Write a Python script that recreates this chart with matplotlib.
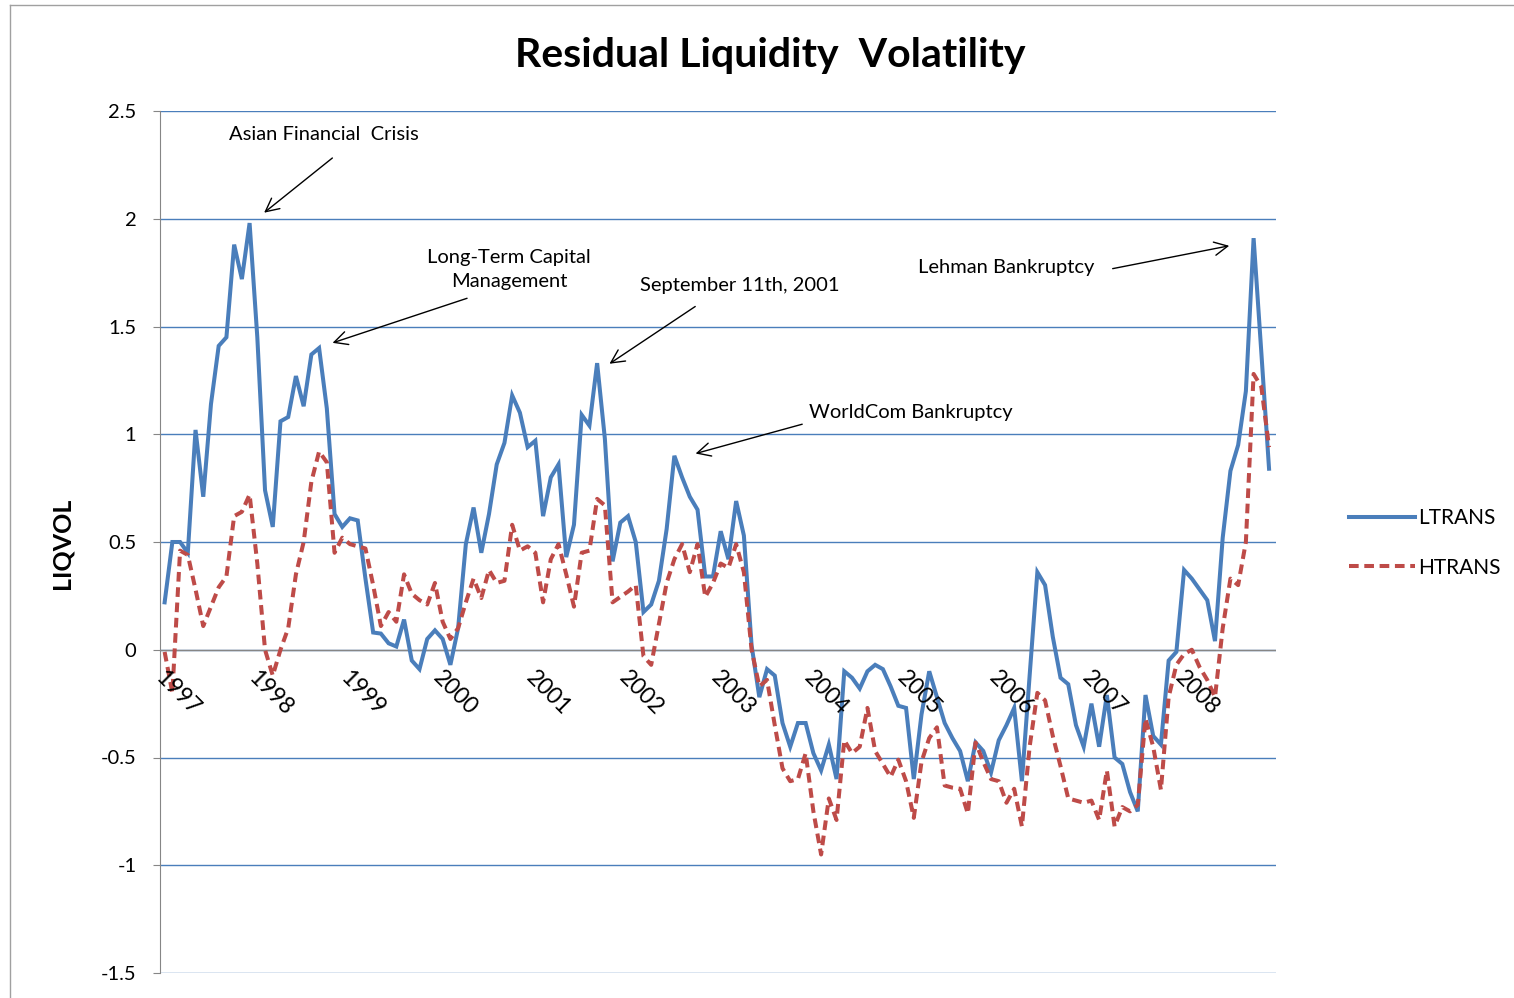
import numpy as np
import matplotlib
matplotlib.use("Agg")
from matplotlib import pyplot as plt
from matplotlib.lines import Line2D

plt.rcParams['font.family'] = ['Lato', 'DejaVu Sans']

# mjesečne vrijednosti, 1997-01 do 2008-12
ltrans = [0.22, 0.50, 0.50, 0.45, 1.02, 0.71, 1.14, 1.41, 1.45, 1.88, 1.72, 1.98,
          1.45, 0.74, 0.57, 1.06, 1.08, 1.27, 1.13, 1.37, 1.40, 1.12, 0.63, 0.57,
          0.61, 0.60, 0.33, 0.08, 0.075, 0.03, 0.015, 0.14, -0.05, -0.09, 0.05, 0.09,
          0.05, -0.07, 0.10, 0.49, 0.66, 0.45, 0.63, 0.86, 0.96, 1.18, 1.10, 0.94,
          0.97, 0.62, 0.80, 0.86, 0.43, 0.58, 1.09, 1.04, 1.33, 0.98, 0.41, 0.59,
          0.62, 0.50, 0.175, 0.21, 0.32, 0.56, 0.90, 0.80, 0.71, 0.65, 0.34, 0.34,
          0.55, 0.42, 0.69, 0.53, 0.02, -0.22, -0.09, -0.12, -0.34, -0.45, -0.34, -0.34,
          -0.48, -0.56, -0.44, -0.60, -0.10, -0.13, -0.18, -0.10, -0.07, -0.09, -0.17, -0.26,
          -0.27, -0.60, -0.30, -0.10, -0.22, -0.34, -0.41, -0.47, -0.61, -0.43, -0.47, -0.57,
          -0.42, -0.35, -0.27, -0.61, -0.12, 0.36, 0.30, 0.06, -0.13, -0.16, -0.35, -0.45,
          -0.25, -0.45, -0.21, -0.50, -0.53, -0.66, -0.75, -0.21, -0.40, -0.44, -0.05, -0.01,
          0.37, 0.33, 0.28, 0.23, 0.04, 0.52, 0.83, 0.95, 1.20, 1.91, 1.38, 0.84]

htrans = [-0.01, -0.20, 0.46, 0.44, 0.28, 0.11, 0.20, 0.29, 0.34, 0.62, 0.64, 0.72,
          0.40, 0.00, -0.12, 0.00, 0.10, 0.35, 0.50, 0.78, 0.92, 0.87, 0.45, 0.52,
          0.49, 0.48, 0.47, 0.30, 0.11, 0.175, 0.13, 0.35, 0.26, 0.23, 0.21, 0.31,
          0.13, 0.05, 0.10, 0.22, 0.33, 0.24, 0.37, 0.31, 0.32, 0.58, 0.46, 0.48,
          0.45, 0.22, 0.42, 0.49, 0.35, 0.20, 0.45, 0.46, 0.70, 0.67, 0.22, 0.245,
          0.27, 0.30, -0.03, -0.07, 0.12, 0.31, 0.42, 0.49, 0.36, 0.49, 0.245, 0.31,
          0.40, 0.38, 0.49, 0.36, 0.00, -0.17, -0.14, -0.35, -0.55, -0.61, -0.60, -0.48,
          -0.75, -0.95, -0.69, -0.79, -0.42, -0.48, -0.45, -0.27, -0.47, -0.53, -0.59, -0.51,
          -0.61, -0.78, -0.52, -0.41, -0.36, -0.63, -0.64, -0.645, -0.76, -0.43, -0.52, -0.60,
          -0.61, -0.71, -0.645, -0.82, -0.45, -0.20, -0.235, -0.40, -0.54, -0.69, -0.70, -0.71,
          -0.70, -0.79, -0.56, -0.82, -0.73, -0.75, -0.72, -0.32, -0.45, -0.65, -0.22, -0.07,
          -0.02, 0.00, -0.08, -0.14, -0.22, 0.10, 0.33, 0.30, 0.50, 1.28, 1.22, 0.94]

godine = [str(g) for g in range(1997, 2009)]

# događaji: tekst, položaj teksta, početak i vrh strelice
dogadjaji = [
    ("Asian Financial  Crisis", (20.6, 2.39), (22.0, 2.29), (12.6, 2.02)),
    ("Long-Term Capital\nManagement", (44.6, 1.765), (39.5, 1.635), (21.4, 1.42)),
    ("September 11th, 2001", (74.5, 1.69), (69.0, 1.60), (57.3, 1.32)),
    ("WorldCom Bankruptcy", (96.6, 1.10), (82.9, 1.05), (68.4, 0.907)),
    ("Lehman Bankruptcy", (108.9, 1.775), (122.4, 1.766), (138.2, 1.877)),
]

plava = "#4a7ebb"
crvena = "#be4b48"

fig = plt.figure(figsize=(15.14, 9.98), dpi=100)
ax = fig.add_axes([160 / 1514, 1 - 973 / 998, (1276 - 160) / 1514, (973 - 111) / 998])

x = np.arange(len(ltrans))
ax.plot(x, ltrans, color=plava, lw=2.9, label="LTRANS", solid_joinstyle="miter")
ax.plot(x, htrans, color=crvena, lw=2.9, ls=(0, (2.4, 1.4)), label="HTRANS")

ax.set_xlim(-0.6, 143.9)
ax.set_ylim(-1.5, 2.5)
ax.set_yticks(np.arange(-1.5, 2.51, 0.5))
ax.set_yticklabels(["-1.5", "-1", "-0.5", "0", "0.5", "1", "1.5", "2", "2.5"], fontsize=14.5)
ax.yaxis.grid(True, color=plava, lw=1)
ax.set_axisbelow(True)
ax.axhline(0, color="#868686", lw=1, zorder=1)
ax.tick_params(axis="y", length=5, color="#868686", pad=12)
ax.set_xticks([])
for s in ["top", "right", "bottom"]:
    ax.spines[s].set_visible(False)
ax.spines["left"].set_color("#868686")

# oznake godina ispod osi
for k, g in enumerate(godine):
    ax.text(k * 12 + 0.2, -0.08, g, rotation=-45, rotation_mode="anchor",
            ha="left", va="top", fontsize=16.5)

for tekst, pol, start, vrh in dogadjaji:
    ax.text(pol[0], pol[1], tekst, ha="center", va="center", fontsize=14.5,
            linespacing=1.5)
    ax.annotate("", xy=vrh, xytext=start,
                arrowprops=dict(arrowstyle="->", color="black", lw=1,
                                mutation_scale=24))

fig.text(770 / 1514, 1 - 55 / 998, "Residual Liquidity  Volatility",
         ha="center", va="center", fontsize=29.5, fontweight="bold")
fig.text(62 / 1514, 1 - 543 / 998, "LIQVOL", rotation=90, ha="center",
         va="center", fontsize=18, fontweight="bold")

fig.legend(loc="center left", bbox_to_anchor=(1330 / 1514, 1 - 543 / 998),
           frameon=False, fontsize=15, handlelength=3.2, handletextpad=0.15,
           labelspacing=1.4)

# okvir grafikona
fig.add_artist(Line2D([10 / 1514, 1], [1 - 5 / 998, 1 - 5 / 998], color="#a0a0a0", lw=1))
fig.add_artist(Line2D([10 / 1514, 10 / 1514], [0, 1 - 5 / 998], color="#a0a0a0", lw=1))

plt.savefig("out.png", dpi=100)
